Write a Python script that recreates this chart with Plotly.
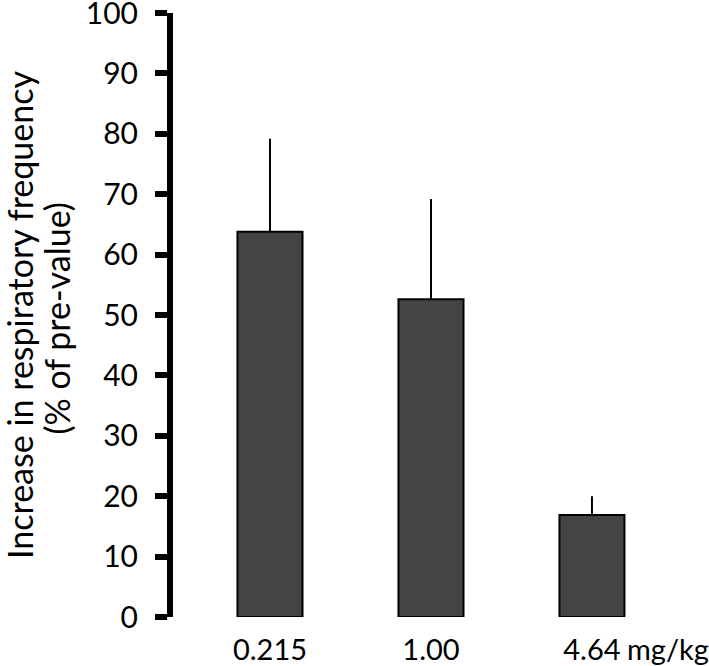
import plotly.graph_objects as go

categories = ["0.215", "1.00", "4.64"]
means = [63.8, 52.6, 16.9]
upper = [79.2, 69.2, 20.0]
y_ticks = [0, 10, 20, 30, 40, 50, 60, 70, 80, 90, 100]

err_plus = [u - m for u, m in zip(upper, means)]

FONT = "Lato"

fig = go.Figure()
fig.add_trace(go.Bar(
    x=list(range(len(categories))),
    y=means,
    width=0.404,
    marker=dict(color="#444444", line=dict(color="black", width=2)),
    error_y=dict(type="data", symmetric=False, array=err_plus,
                 arrayminus=[0] * len(means), color="black",
                 thickness=2, width=0),
))

fig.update_layout(
    width=709, height=666,
    margin=dict(l=173, r=0, t=13, b=49),
    plot_bgcolor="white", paper_bgcolor="white",
    showlegend=False,
    font=dict(family=FONT, size=30, color="black"),
    xaxis=dict(
        range=[-0.6025, 2.727],
        tickvals=list(range(len(categories))),
        ticktext=categories,
        showline=False, showgrid=False, zeroline=False,
        ticks="", ticklabelstandoff=13, automargin=False,
        tickfont=dict(family=FONT, size=29),
    ),
    yaxis=dict(
        range=[0, 100],
        tickvals=y_ticks,
        showline=True, linewidth=6, linecolor="black",
        ticks="outside", ticklen=12, tickwidth=6, tickcolor="black",
        showgrid=False, zeroline=False, automargin=False,
        ticklabelstandoff=11, ticklabeloverflow="allow",
        tickfont=dict(family=FONT, size=30),
    ),
    annotations=[
        dict(text="Increase in respiratory frequency", textangle=-90,
             xref="paper", yref="paper", x=0, y=0.5, xanchor="center",
             yanchor="middle", xshift=-154, showarrow=False,
             font=dict(family=FONT, size=34)),
        dict(text="(% of pre-value)", textangle=-90,
             xref="paper", yref="paper", x=0, y=0.494, xanchor="center",
             yanchor="middle", xshift=-116, showarrow=False,
             font=dict(family=FONT, size=34)),
        dict(text="mg/kg", xref="x", yref="paper", x=2, y=0,
             xanchor="left", yanchor="middle", xshift=33, yshift=-31,
             showarrow=False, font=dict(family=FONT, size=29)),
    ],
)

fig.write_html("out.html", config={"displayModeBar": False},
               post_script="document.body.style.margin='0px';")
